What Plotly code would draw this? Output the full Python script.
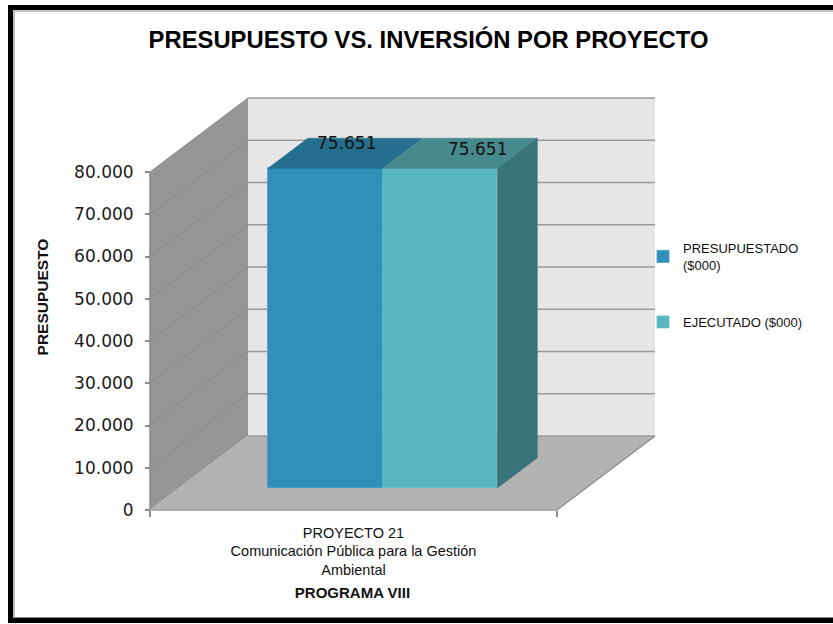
import plotly.graph_objects as go

# ---------------- data ----------------
CATEGORIES = ["PROYECTO 21<br>Comunicación Pública para la Gestión<br>Ambiental"]
SERIES_NAMES = ["PRESUPUESTADO<br>($000)", "EJECUTADO ($000)"]
PRESUPUESTADO = [75651]
EJECUTADO = [75651]
LABELS = ["75.651", "75.651"]
Y_TICKS = [0, 10000, 20000, 30000, 40000, 50000, 60000, 70000, 80000]
Y_MAX = 80000
TITLE = "PRESUPUESTO VS. INVERSIÓN POR PROYECTO"
Y_TITLE = "PRESUPUESTO"
X_TITLE = "PROGRAMA VIII"

# ---------------- styles / geometry ----------------
W, H = 833, 624
PX_X = 407.0          # pixels per category unit
PX_Y = 4.225 / 1000   # pixels per value unit
X0_PX, Y0_PX = 150, 510
X_DOM_PX = 705        # right edge of x domain (px)
Y_DOM_PX = 594        # bottom edge of y domain (px from top)
DEPTH_X = 98 / PX_X           # full depth of the 3D box (x units)
DEPTH_Y = 74 / PX_Y           # full depth of the 3D box (value units)
BAR_FRONT = 0.297             # depth fraction where bar front faces sit
BAR_DEPTH = 0.408             # depth fraction of bars
BAR_W = 0.282
FRONT_COLORS = ["#318FBA", "#57B6C0"]
TOP_COLORS = ["#246F8D", "#468A8E"]
SIDE_COLORS = ["#2A6A86", "#387479"]
EDGE_COLORS = ["#3C9BC6", "#66C0C9"]
LABEL_OFFSETS = [(0.053, 6000), (0.093, 4600)]
FONT = "DejaVu Sans"
TXT_FONT = "Liberation Sans"

xr = [-X0_PX / PX_X, (X_DOM_PX - X0_PX) / PX_X]
yr = [-(Y_DOM_PX - Y0_PX) / PX_Y, Y0_PX / PX_Y]

fig = go.Figure()
shapes = []

def path(pts):
    return "M " + " L ".join(f"{x},{y}" for x, y in pts) + " Z"

# walls and floor
n_cat = len(CATEGORIES)
shapes.append(dict(type="path", layer="below", xref="x", yref="y",
                   path=path([(0, 0), (DEPTH_X, DEPTH_Y), (DEPTH_X, DEPTH_Y + Y_MAX), (0, Y_MAX)]),
                   fillcolor="#969696", line=dict(width=0)))
shapes.append(dict(type="path", layer="below", xref="x", yref="y",
                   path=path([(DEPTH_X, DEPTH_Y), (DEPTH_X + n_cat, DEPTH_Y),
                              (DEPTH_X + n_cat, DEPTH_Y + Y_MAX), (DEPTH_X, DEPTH_Y + Y_MAX)]),
                   fillcolor="#E6E6E6", line=dict(width=0)))
shapes.append(dict(type="path", layer="below", xref="x", yref="y",
                   path=path([(0, 0), (n_cat, 0), (n_cat + DEPTH_X, DEPTH_Y), (DEPTH_X, DEPTH_Y)]),
                   fillcolor="#B2B2B2", line=dict(width=0)))
# gridlines
for v in Y_TICKS:
    if v > 0:
        shapes.append(dict(type="line", layer="below", xref="x", yref="y",
                           x0=0, y0=v, x1=DEPTH_X, y1=v + DEPTH_Y,
                           line=dict(color="#8A8A8A", width=1)))
    shapes.append(dict(type="line", layer="below", xref="x", yref="y",
                       x0=DEPTH_X, y0=v + DEPTH_Y, x1=DEPTH_X + n_cat, y1=v + DEPTH_Y,
                       line=dict(color="#9A9A9A", width=1.5)))
# floor edges
shapes.append(dict(type="line", layer="below", xref="x", yref="y", x0=0, y0=0, x1=n_cat, y1=0,
                   line=dict(color="#9A9A9A", width=1.5)))
shapes.append(dict(type="line", layer="below", xref="x", yref="y", x0=n_cat, y0=0,
                   x1=n_cat + DEPTH_X, y1=DEPTH_Y, line=dict(color="#8A8A8A", width=1.2)))
# y axis line
shapes.append(dict(type="line", layer="below", xref="x", yref="y", x0=0, y0=0, x1=0, y1=Y_MAX,
                   line=dict(color="#8A8A8A", width=1.5)))

# frame
shapes.append(dict(type="rect", xref="paper", yref="paper", layer="above",
                   x0=10.5 / W, x1=1.05, y0=1 - 620.5 / H, y1=1 - 7.5 / H,
                   line=dict(color="black", width=5)))
shapes.append(dict(type="rect", xref="paper", yref="paper", layer="above",
                   x0=14 / W, x1=1.05, y0=1 - 617.5 / H, y1=1 - 11 / H,
                   line=dict(color="#8C8C8C", width=1.2)))

# bars
series = [PRESUPUESTADO, EJECUTADO]
bdx = BAR_DEPTH * DEPTH_X
bdy = BAR_DEPTH * DEPTH_Y
base = BAR_FRONT * DEPTH_Y
annotations = []
n_s = len(series)
for i, (name, vals) in enumerate(zip(SERIES_NAMES, series)):
    xs = [c + 0.5 + BAR_FRONT * DEPTH_X + (i - (n_s - 1) / 2) * BAR_W for c in range(n_cat)]
    fig.add_trace(go.Bar(
        x=xs, y=vals, base=[base] * n_cat, width=[BAR_W] * n_cat, name=name,
        marker=dict(color=FRONT_COLORS[i], line=dict(color=EDGE_COLORS[i], width=0.8)),
        legend="legend" if i == 0 else "legend2", hoverinfo="skip"))
    for x, v in zip(xs, vals):
        xl, xr_ = x - BAR_W / 2, x + BAR_W / 2
        top = base + v
        fig.add_trace(go.Scatter(
            x=[xl, xr_, xr_ + bdx, xl + bdx, xl], y=[top, top, top + bdy, top + bdy, top],
            fill="toself", fillcolor=TOP_COLORS[i], mode="lines",
            line=dict(color=TOP_COLORS[i], width=0.5), showlegend=False, hoverinfo="skip"))
        if i == n_s - 1:
            fig.add_trace(go.Scatter(
                x=[xr_, xr_ + bdx, xr_ + bdx, xr_, xr_], y=[base, base + bdy, top + bdy, top, base],
                fill="toself", fillcolor=SIDE_COLORS[i], mode="lines",
                line=dict(color=SIDE_COLORS[i], width=0.5), showlegend=False, hoverinfo="skip"))
        dx, dy = LABEL_OFFSETS[i]
        annotations.append(dict(x=x + dx, y=top + dy, xref="x", yref="y", text=LABELS[i],
                                showarrow=False, font=dict(family=FONT, size=17, color="#111111")))

fig.update_layout(
    width=W, height=H,
    margin=dict(l=0, r=0, t=0, b=0),
    paper_bgcolor="white", plot_bgcolor="white",
    separators=",.",
    bargap=0, barmode="overlay",
    title=dict(text=TITLE, x=428.5 / W, xanchor="center", y=1 - 40 / H, yanchor="middle",
               font=dict(family=TXT_FONT, size=23.8, color="black", weight="bold")),
    xaxis=dict(range=xr, domain=[0, X_DOM_PX / W], anchor="free", position=1 - Y0_PX / H,
               showgrid=False, zeroline=False,
               showline=False, tickvals=[c + 0.5 for c in range(n_cat)], ticktext=CATEGORIES,
               ticks="", ticklabelstandoff=12,
               tickfont=dict(family=TXT_FONT, size=14.5, color="#111111"),
               minor=dict(ticks="outside", tick0=0, dtick=1, ticklen=6, tickcolor="#8A8A8A",
                          tickwidth=1.5),
               title=dict(text=X_TITLE, standoff=10,
                          font=dict(family=TXT_FONT, size=15, color="#111111", weight="bold")),
               fixedrange=True),
    yaxis=dict(range=yr, domain=[1 - Y_DOM_PX / H, 1], anchor="free", position=X0_PX / W,
               showgrid=False, zeroline=False,
               showline=False, tickvals=Y_TICKS, tickformat=",d", ticks="outside", ticklen=5,
               tickcolor="#8A8A8A", tickwidth=1.5, ticklabelstandoff=8,
               tickfont=dict(family=FONT, size=17, color="#1a1a1a"),
               title=dict(text=Y_TITLE, standoff=20,
                          font=dict(family=TXT_FONT, size=15.5, color="#111111", weight="bold")),
               fixedrange=True),
    legend=dict(x=643 / W, y=1 - 233 / H, xanchor="left", yanchor="top",
                font=dict(family=TXT_FONT, size=13, color="#111111"),
                bgcolor="rgba(0,0,0,0)"),
    legend2=dict(x=643 / W, y=1 - 307 / H, xanchor="left", yanchor="top",
                 font=dict(family=TXT_FONT, size=13, color="#111111"),
                 bgcolor="rgba(0,0,0,0)"),
    shapes=shapes,
    annotations=annotations,
)

fig.write_html("out.html", config={"displayModeBar": False},
               post_script="document.body.style.margin='0';document.body.style.overflow='hidden';")
